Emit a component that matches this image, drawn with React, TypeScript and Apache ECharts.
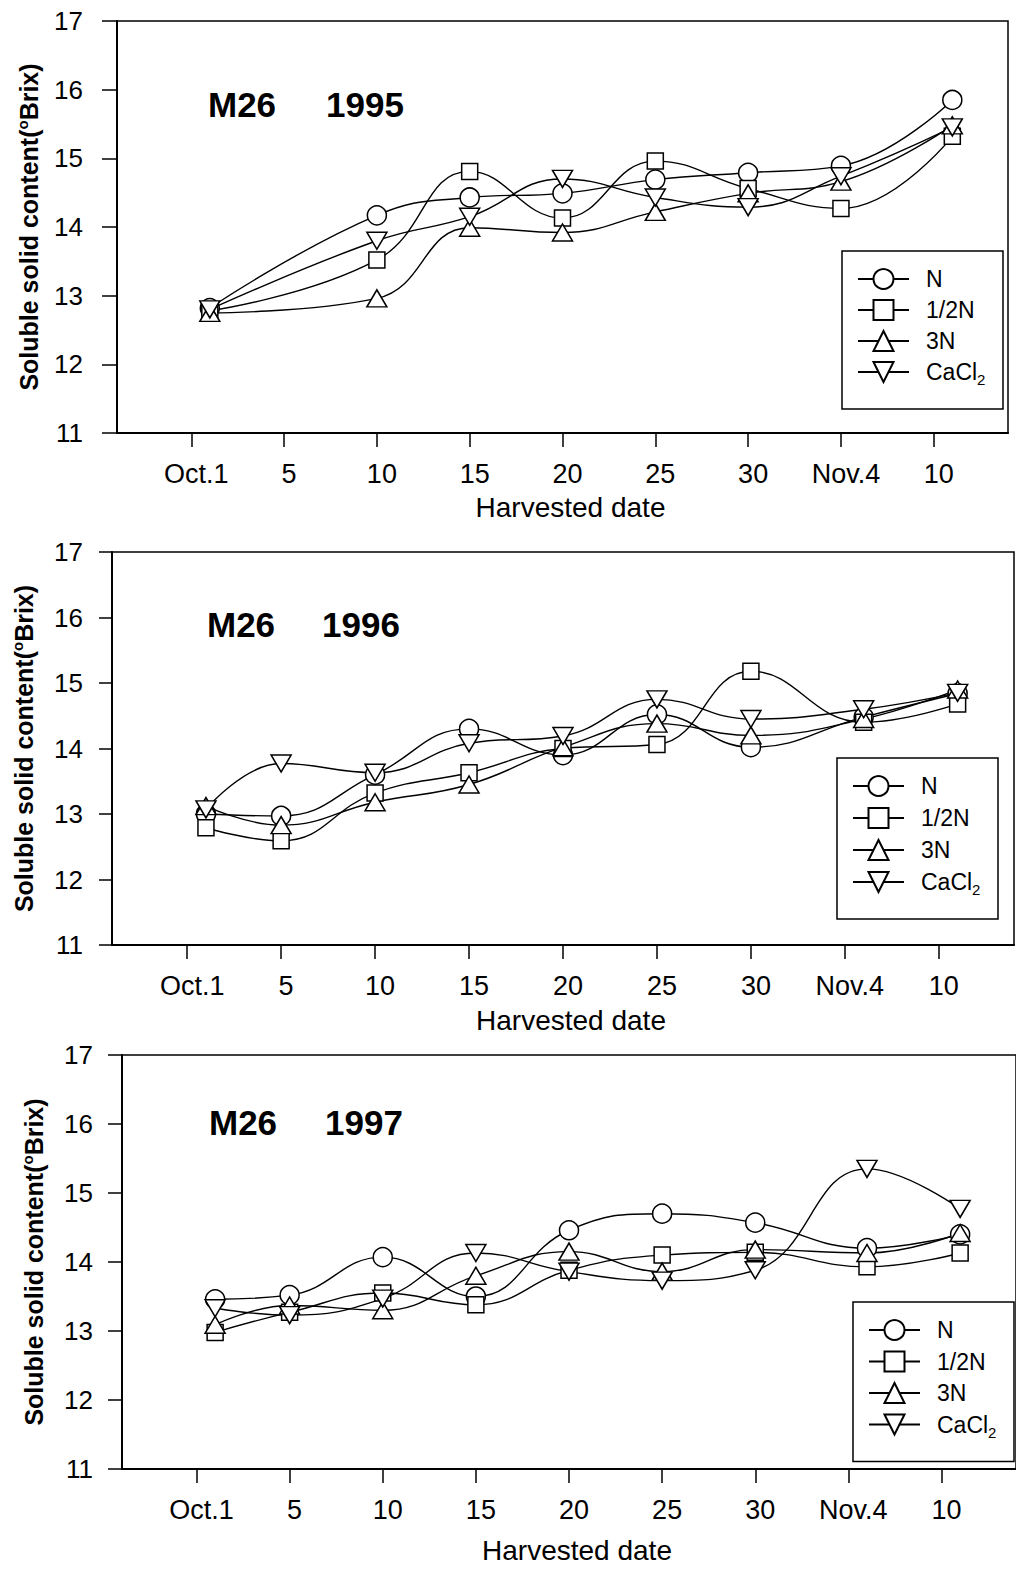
import React, { useEffect, useRef } from 'react';
import * as echarts from 'echarts';

// ---- data ----
const treatments = ['N', '1/2N', '3N', 'CaCl2'];
const xTickValues = [0, 5, 10, 15, 20, 25, 30, 35, 40];
const xTickLabels = ['Oct.1', '5', '10', '15', '20', '25', '30', 'Nov.4', '10'];

// day number counted from Oct.0 (Nov.4 = 35, Nov.10 = 41)
const days1995 = [1, 10, 15, 20, 25, 30, 35, 41];
const n1995 = [12.82, 14.17, 14.43, 14.49, 14.69, 14.79, 14.89, 15.85];
const halfN1995 = [12.78, 13.52, 14.81, 14.13, 14.96, 14.56, 14.27, 15.32];
const threeN1995 = [12.75, 12.96, 13.99, 13.92, 14.22, 14.49, 14.66, 15.48];
const cacl1995 = [12.8, 13.8, 14.15, 14.7, 14.43, 14.29, 14.74, 15.45];

const days1996 = [1, 5, 10, 15, 20, 25, 30, 36, 41];
const n1996 = [13.0, 12.97, 13.6, 14.3, 13.9, 14.52, 14.02, 14.48, 14.84];
const halfN1996 = [12.79, 12.59, 13.32, 13.63, 14.0, 14.06, 15.18, 14.4, 14.68];
const threeN1996 = [13.12, 12.83, 13.18, 13.45, 14.02, 14.38, 14.2, 14.45, 14.9];
const cacl1996 = [13.07, 13.77, 13.63, 14.08, 14.19, 14.75, 14.45, 14.6, 14.85];

const days1997 = [1, 5, 10, 15, 20, 25, 30, 36, 41];
const n1997 = [13.46, 13.52, 14.07, 13.5, 14.46, 14.7, 14.57, 14.2, 14.4];
const halfN1997 = [12.98, 13.27, 13.55, 13.38, 13.88, 14.1, 14.14, 13.93, 14.13];
const threeN1997 = [13.09, 13.37, 13.3, 13.8, 14.15, 13.86, 14.18, 14.13, 14.42];
const cacl1997 = [13.33, 13.23, 13.47, 14.13, 13.86, 13.73, 13.88, 15.35, 14.77];

const panelYears = ['1995', '1996', '1997'];
const panelDays = [days1995, days1996, days1997];
const panelValues = [
  [n1995, halfN1995, threeN1995, cacl1995],
  [n1996, halfN1996, threeN1996, cacl1996],
  [n1997, halfN1997, threeN1997, cacl1997],
];

// ---- layout / style ----
const FONT = '"Liberation Sans", Arial, Helvetica, sans-serif';
const grids = [
  { left: 117, top: 21, width: 891, height: 412 },
  { left: 112, top: 552, width: 902, height: 393 },
  { left: 122, top: 1055, width: 905, height: 414 },
];
const yLabelMargins = [34, 29, 29];
const yTickLens = [15, 13, 14];
const xNameGaps = [60, 61, 67];
const legendPos = [
  { left: 842, top: 251, gap: 1 },
  { left: 837, top: 758, gap: 2 },
  { left: 853, top: 1302, gap: 1.5 },
];
const titlePos = [
  { m: 208, y: 87, yr: 326 },
  { m: 207, y: 607, yr: 322 },
  { m: 209, y: 1105, yr: 325 },
];
const symbolDefs = [
  { symbol: 'circle', size: 19, rotate: 0 },
  { symbol: 'rect', size: 16, rotate: 0 },
  { symbol: 'triangle', size: [20, 17], rotate: 0 },
  { symbol: 'triangle', size: [20, 17], rotate: 180 },
];

function buildOption() {
  const series: any[] = [];
  panelValues.forEach((vals, p) => {
    vals.forEach((arr, t) => {
      const s = symbolDefs[t];
      series.push({
        type: 'line',
        name: treatments[t],
        xAxisIndex: p,
        yAxisIndex: p,
        data: panelDays[p].map((d, i) => [d, arr[i]]),
        smooth: 0.45,
        symbol: s.symbol,
        symbolSize: s.size,
        symbolRotate: s.rotate,
        showSymbol: true,
        lineStyle: { color: '#000', width: 1.4 },
        itemStyle: { color: '#fff', borderColor: '#000', borderWidth: 1.5 },
        emphasis: { disabled: true },
        silent: true,
      });
    });
  });

  const xAxis = grids.map((_, p) => ({
    type: 'value',
    gridIndex: p,
    min: -4,
    max: 44,
    axisLine: { show: true, onZero: false, lineStyle: { color: '#000', width: 2 } },
    axisTick: {
      show: true,
      length: 14,
      customValues: xTickValues,
      lineStyle: { color: '#000', width: 1.5 },
    },
    axisLabel: {
      customValues: xTickValues,
      formatter: (v: number) => {
        const i = xTickValues.indexOf(Math.round(v));
        return i >= 0 ? xTickLabels[i] : '';
      },
      margin: 27,
      fontSize: 27,
      fontFamily: FONT,
      color: '#000',
      padding: [0, 0, 0, 10],
    },
    splitLine: { show: false },
    name: 'Harvested date',
    nameLocation: 'middle',
    nameGap: xNameGaps[p],
    nameTextStyle: { fontSize: 28, fontFamily: FONT, color: '#000', padding: [0, 0, 0, 16] },
  }));

  const yAxis = grids.map((_, p) => ({
    type: 'value',
    gridIndex: p,
    min: 11,
    max: 17,
    interval: 1,
    axisLine: { show: true, onZero: false, lineStyle: { color: '#000', width: 2 } },
    axisTick: { show: true, length: yTickLens[p], lineStyle: { color: '#000', width: 1.5 } },
    axisLabel: { margin: yLabelMargins[p], fontSize: 26, fontFamily: FONT, color: '#000' },
    splitLine: { show: false },
    name: '{a|Soluble solid content(}{b|o}{a|Brix)}',
    nameLocation: 'middle',
    nameGap: 74,
    nameTextStyle: {
      rich: {
        a: { fontSize: 25, fontWeight: 'bold', fontFamily: FONT, color: '#000', lineHeight: 28 },
        b: { fontSize: 15, fontWeight: 'bold', fontFamily: FONT, color: '#000', lineHeight: 15, verticalAlign: 'top' },
      },
    },
  }));

  const legend = legendPos.map((lp) => ({
    orient: 'vertical',
    left: lp.left,
    top: lp.top,
    data: treatments,
    selectedMode: false,
    itemWidth: 51,
    itemHeight: 25,
    itemGap: lp.gap,
    padding: [13, 15, 22, 15],
    borderColor: '#000',
    borderWidth: 1.5,
    borderRadius: 0,
    backgroundColor: '#fff',
    formatter: (name: string) => (name === 'CaCl2' ? '{t|CaCl}{s|2}' : '{t|' + name + '}'),
    textStyle: {
      fontSize: 23,
      fontFamily: FONT,
      color: '#000',
      width: 62,
      lineHeight: 30,
      padding: [0, 0, 0, 12],
      rich: {
        t: { fontSize: 23, fontFamily: FONT, color: '#000', lineHeight: 30 },
        s: { fontSize: 15, fontFamily: FONT, color: '#000', lineHeight: 15, verticalAlign: 'bottom' },
      },
    },
  }));

  const titleStyle = { fontSize: 35, fontWeight: 'bold', fontFamily: FONT, color: '#000' };
  const title: any[] = [];
  titlePos.forEach((tp, p) => {
    title.push({ text: 'M26', left: tp.m, top: tp.y, padding: 0, textStyle: titleStyle });
    title.push({ text: panelYears[p], left: tp.yr, top: tp.y, padding: 0, textStyle: titleStyle });
  });

  return {
    animation: false,
    backgroundColor: '#fff',
    title,
    legend,
    grid: grids.map((g) => ({ ...g, show: true, borderColor: '#000', borderWidth: 1.5, backgroundColor: 'transparent' })),
    xAxis,
    yAxis,
    series,
  };
}

export default function App() {
  const ref = useRef<HTMLDivElement>(null);
  useEffect(() => {
    if (!ref.current) return;
    const chart = echarts.init(ref.current, undefined, { renderer: 'svg' });
    chart.setOption(buildOption() as any);
    return () => chart.dispose();
  }, []);
  return (
    <div
      ref={ref}
      style={{ position: 'absolute', left: 0, top: 0, width: 1016, height: 1572, background: '#fff' }}
    />
  );
}
